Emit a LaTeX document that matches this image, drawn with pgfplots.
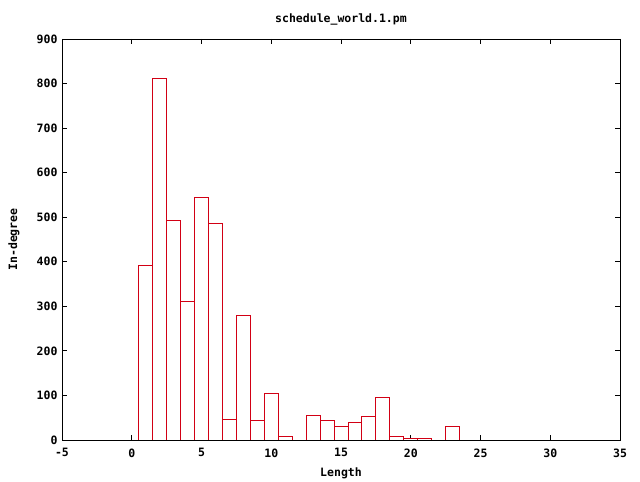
\documentclass[border=0pt]{standalone}
\usepackage{pgfplots}
\pgfplotsset{compat=1.18}
\usepackage{fontspec}
\setmainfont{DejaVu Sans Mono}
\definecolor{gpred}{RGB}{210,0,20}
\newcommand{\gpfont}{\fontsize{11.5}{13}\selectfont\bfseries}
\begin{document}
\begin{tikzpicture}
\begin{axis}[
  name=ax,
  scale only axis,
  width=558pt, height=401pt,
  xmin=-5, xmax=35, ymin=0, ymax=900,
  xtick={-5,0,5,10,15,20,25,30,35},
  ytick={0,100,200,300,400,500,600,700,800,900},
  tick align=inside,
  major tick length=5pt,
  minor tick num=0,
  axis line style={black, line width=0.9pt},
  tick style={black, line width=0.9pt},
  /pgf/number format/assume math mode=true,
  /pgf/number format/1000 sep={},
  tick label style={font=\gpfont},
  xticklabel style={yshift=-5pt},
  yticklabel style={xshift=-1pt},
  xlabel={Length},
  ylabel={In-degree},
  label style={font=\gpfont},
  xlabel style={at={(0.5,0)}, anchor=center, yshift=-33pt},
  ylabel style={at={(0,0.5)}, anchor=center, yshift=48pt},
  title={schedule\_world.1.pm},
  every axis title shift=0pt,
  title style={font=\gpfont, at={(0.5,1)}, anchor=center, yshift=20pt},
]
\addplot[ybar, bar width=1, bar shift=0pt, draw=gpred, fill=white, line width=0.9pt] coordinates {
 (1,392) (2,811) (3,493) (4,312) (5,545) (6,486) (7,46) (8,280) (9,44) (10,105)
 (11,8) (13,56) (14,43) (15,31) (16,40) (17,52) (18,96) (19,8) (20,4) (21,3) (23,31)
};
\end{axis}
\path (ax.south west) ++(-62pt,-40pt) coordinate (bl);
\path (ax.north east) ++(20pt,39pt) coordinate (tr);
\path (bl) rectangle (tr);
\end{tikzpicture}
\end{document}
